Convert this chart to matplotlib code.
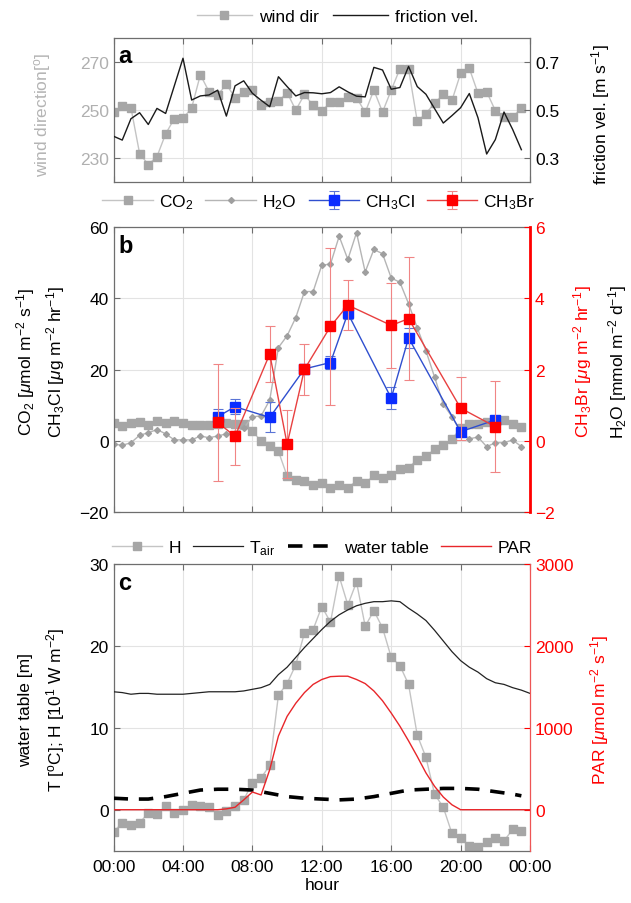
import matplotlib
matplotlib.use("Agg")
import matplotlib.pyplot as plt
import numpy as np

plt.rcParams['font.family'] = ['Liberation Sans', 'DejaVu Sans']
plt.rcParams['mathtext.fontset'] = 'custom'
plt.rcParams['mathtext.rm'] = 'Liberation Sans'
plt.rcParams['mathtext.it'] = 'Liberation Sans:italic'

# ---------------- data ----------------
hh = [i * 0.5 for i in range(48)]  # half-hourly time stamps (h)

wind_dir = [249.4, 251.7, 251.1, 232.0, 227.4, 230.7, 240.2, 246.5, 246.6, 251.0,
            264.8, 257.8, 256.4, 260.8, 255.3, 257.8, 258.4, 252.1, 253.5, 253.8,
            257.4, 250.1, 256.6, 252.1, 249.7, 253.4, 253.5, 255.7, 255.3, 249.2,
            258.4, 249.3, 258.4, 267.3, 267.1, 245.5, 248.6, 253.1, 256.6, 254.1,
            265.4, 267.5, 257.1, 257.7, 249.9, 247.3, 247.3, 250.8]
friction_vel = [0.392, 0.376, 0.465, 0.490, 0.441, 0.508, 0.487, 0.602, 0.717, 0.543,
                0.560, 0.564, 0.584, 0.476, 0.602, 0.623, 0.571, 0.542, 0.515, 0.640,
                0.599, 0.560, 0.574, 0.573, 0.569, 0.574, 0.598, 0.577, 0.559, 0.556,
                0.679, 0.668, 0.588, 0.595, 0.683, 0.599, 0.567, 0.507, 0.447, 0.478,
                0.511, 0.570, 0.469, 0.318, 0.378, 0.493, 0.420, 0.336]

co2 = [5.0, 4.2, 5.0, 5.3, 4.4, 5.6, 5.1, 5.6, 5.0, 4.6,
       4.6, 4.6, 4.8, 5.0, 4.8, 4.8, 2.7, 0.0, -1.3, -2.9,
       -9.8, -11.0, -11.2, -12.4, -11.9, -13.1, -12.4, -13.1, -11.2, -11.9,
       -9.6, -10.3, -9.6, -8.0, -7.5, -5.2, -4.3, -2.3, -1.2, 0.5,
       3.6, 4.8, 4.8, 5.2, 5.5, 5.9, 4.8, 4.0]
h2o = [-0.9, -1.2, -0.5, 1.6, 2.3, 3.2, 2.0, 0.3, 0.3, 0.3,
       1.4, 0.9, 1.4, 2.0, 2.3, 3.6, 6.8, 7.0, 11.5, 26.2,
       29.5, 34.6, 41.9, 41.9, 49.3, 49.6, 57.4, 50.9, 58.4, 47.4,
       53.7, 52.5, 45.7, 44.5, 38.5, 31.7, 25.3, 17.9, 10.3, 6.8,
       2.6, 0.6, 1.1, -1.6, -0.5, -0.5, 0.3, -1.6]

cl_hour = [6, 7, 9, 11, 12.5, 13.5, 16, 17, 20, 22]
ch3cl = [6.8, 9.6, 6.6, 20.2, 22.0, 35.8, 12.0, 28.9, 2.6, 5.9]
ch3cl_err = [2.3, 2.1, 4.2, 1.0, 1.9, 1.5, 3.1, 2.9, 0.8, 1.0]

br_hour = [6, 7, 9, 10, 11, 12.5, 13.5, 16, 17, 20, 22]
ch3br = [0.52, 0.13, 2.44, -0.09, 2.01, 3.21, 3.81, 3.24, 3.43, 0.92, 0.40]
ch3br_err = [1.65, 0.80, 0.79, 0.96, 0.71, 2.19, 0.69, 1.18, 1.73, 0.88, 1.28]

sens_heat = [-2.7, -1.6, -1.9, -1.6, -0.4, -0.5, 0.4, -0.4, 0.0, 0.6,
             0.4, 0.3, -0.6, -0.2, 0.4, 1.2, 3.3, 3.9, 5.4, 14.0,
             15.4, 17.7, 21.6, 22.0, 24.8, 22.9, 28.5, 25.0, 27.8, 22.4,
             24.3, 22.2, 18.6, 17.6, 15.3, 9.1, 6.4, 1.9, 0.3, -2.9,
             -3.5, -4.4, -4.6, -3.9, -3.5, -3.8, -2.4, -2.6]

hh49 = [i * 0.5 for i in range(49)]
t_air = [14.4, 14.3, 14.1, 14.2, 14.2, 14.1, 14.1, 14.1, 14.1, 14.2,
         14.3, 14.4, 14.4, 14.4, 14.4, 14.5, 14.7, 14.9, 15.3, 16.5,
         17.4, 18.6, 19.8, 20.9, 22.0, 23.0, 23.8, 24.4, 24.9, 25.2,
         25.4, 25.4, 25.5, 25.4, 24.6, 23.9, 23.1, 21.9, 20.6, 19.3,
         18.2, 17.4, 16.8, 16.0, 15.5, 15.3, 14.9, 14.6, 14.2]
par = [0, 0, 0, 0, 0, 0, 0, 0, 0, 0,
       0, 0, 0, 10, 30, 120, 216, 180, 490, 900,
       1140, 1300, 1430, 1530, 1590, 1625, 1630, 1630, 1590, 1540,
       1450, 1330, 1180, 1020, 840, 650, 450, 285, 155, 60,
       0, 0, 0, 0, 0, 0, 0, 0, 0]

wt_hour = list(range(24)) + [23.5]
water_table = [1.4, 1.3, 1.3, 1.6, 2.0, 2.4, 2.5, 2.5, 2.4, 2.0,
               1.6, 1.4, 1.3, 1.2, 1.3, 1.6, 2.0, 2.4, 2.5, 2.6,
               2.6, 2.5, 2.2, 1.9, 1.7]

xticks = [0, 4, 8, 12, 16, 20, 24]
xticklabels = ['00:00', '04:00', '08:00', '12:00', '16:00', '20:00', '00:00']

# ---------------- styling ----------------
FS = 12.5
GRAY_M = '#a6a6a6'
GRAY_L = '#c4c4c4'
SPINE = '#6e6e6e'
BLUE = '#0a2cff'
BLUE_L = '#2f4fcf'
RED = '#ff0000'
RED_L = '#e84040'

fig = plt.figure(figsize=(6.31, 9.04), dpi=100)

L, W = 0.180, 0.660
axa = fig.add_axes([L, 0.7972, W, 0.1593])
axb = fig.add_axes([L, 0.4322, W, 0.3156])
axc = fig.add_axes([L, 0.0579, W, 0.3171])


def base(ax):
    ax.set_xlim(0, 24)
    ax.set_xticks(xticks)
    ax.grid(True, color='#e3e3e3', lw=0.8)
    ax.set_axisbelow(True)
    for s in ax.spines.values():
        s.set_color(SPINE)
        s.set_linewidth(0.9)
    ax.tick_params(direction='in', length=4, labelsize=FS, color=SPINE,
                   top=True, width=0.8)


for ax in (axa, axb, axc):
    base(ax)

# ---------------- panel a ----------------
axa.plot(hh, wind_dir, '-s', color=GRAY_L, lw=1.0, ms=5.6, mfc=GRAY_M, mec=GRAY_M,
         label='wind dir', zorder=2)
axa.set_ylim(220, 280)
axa.set_yticks([230, 250, 270])
axa.tick_params(axis='y', labelcolor='#b0b0b0')
axa.set_xticklabels([])
axa2 = axa.twinx()
axa2.plot(hh, friction_vel, '-', color='#1a1a1a', lw=1.0, label='friction vel.')
axa2.set_ylim(0.2, 0.8)
axa2.set_yticks([0.3, 0.5, 0.7])
axa2.tick_params(direction='in', length=4, labelsize=FS, color=SPINE, width=0.8)
for s in axa2.spines.values():
    s.set_visible(False)
axa.text(0.012, 0.96, 'a', transform=axa.transAxes, fontsize=17, fontweight='bold',
         va='top', ha='left', zorder=10)

h1, l1 = axa.get_legend_handles_labels()
h2, l2 = axa2.get_legend_handles_labels()
fig.legend(h1 + h2, l1 + l2, loc='center', bbox_to_anchor=(0.535, 0.981), ncol=2,
           frameon=False, fontsize=FS, handlelength=3.2, columnspacing=0.8,
           handletextpad=0.4)

fig.text(0.068, 0.873, 'wind direction[$^{\\rm o}$]', rotation=90, ha='center', va='center',
         fontsize=FS, color='#b4b4b4')
fig.text(0.952, 0.873, 'friction vel. [m s$^{-1}$]', rotation=90, ha='center', va='center',
         fontsize=FS, color='black')

# ---------------- panel b ----------------
axb.plot(hh, co2, '-s', color=GRAY_L, lw=1.0, ms=5.8, mfc=GRAY_M, mec=GRAY_M,
         label='CO$_2$', zorder=2)
axb.plot(hh, h2o, '-D', color='#b5b5b5', lw=1.0, ms=3.0, mfc='#9f9f9f', mec='#9f9f9f',
         label='H$_2$O', zorder=2)
axb.errorbar(cl_hour, ch3cl, yerr=ch3cl_err, fmt='-s', color=BLUE_L, lw=1.0, ms=6.5,
             mfc=BLUE, mec=BLUE, ecolor='#5a74d6', elinewidth=0.8, capsize=3.5,
             capthick=0.8, label='CH$_3$Cl', zorder=3)
axb.set_ylim(-20, 60)
axb.set_yticks([-20, 0, 20, 40, 60])
axb.set_xticklabels([])
axb2 = axb.twinx()
axb2.errorbar(br_hour, ch3br, yerr=ch3br_err, fmt='-s', color=RED_L, lw=1.0, ms=6.5,
              mfc=RED, mec=RED, ecolor='#f08585', elinewidth=0.8, capsize=3.5,
              capthick=0.8, label='CH$_3$Br', zorder=3)
axb2.set_ylim(-2, 6)
axb2.set_yticks([-2, 0, 2, 4, 6])
axb2.tick_params(direction='in', length=4, labelsize=FS, color=RED, labelcolor=RED, width=0.8)
for k, s in axb2.spines.items():
    s.set_visible(k == 'right')
axb2.spines['right'].set_color(RED)
axb2.spines['right'].set_linewidth(2.0)
axb.spines['right'].set_visible(False)
axb.text(0.012, 0.975, 'b', transform=axb.transAxes, fontsize=17, fontweight='bold',
         va='top', ha='left', zorder=10)

h1, l1 = axb.get_legend_handles_labels()
h2, l2 = axb2.get_legend_handles_labels()
fig.legend(h1 + h2, l1 + l2, loc='center', bbox_to_anchor=(0.505, 0.776), ncol=4,
           frameon=False, fontsize=FS, handlelength=2.9, columnspacing=0.7,
           handletextpad=0.35)

fig.text(0.040, 0.60, 'CO$_2$ [$\\mu$mol m$^{-2}$ s$^{-1}$]', rotation=90, ha='center',
         va='center', fontsize=FS)
fig.text(0.088, 0.60, 'CH$_3$Cl [$\\mu$g m$^{-2}$ hr$^{-1}$]', rotation=90, ha='center',
         va='center', fontsize=FS)
fig.text(0.924, 0.60, 'CH$_3$Br [$\\mu$g m$^{-2}$ hr$^{-1}$]', rotation=90, ha='center',
         va='center', fontsize=FS, color=RED)
fig.text(0.978, 0.60, 'H$_2$O [mmol m$^{-2}$ d$^{-1}$]', rotation=90, ha='center',
         va='center', fontsize=FS)

# ---------------- panel c ----------------
axc.plot(hh, sens_heat, '-s', color=GRAY_L, lw=1.0, ms=5.8, mfc=GRAY_M, mec=GRAY_M,
         label='H', zorder=2)
axc.plot(hh49, t_air, '-', color='#222222', lw=0.9, label='T$_{\\rm air}$', zorder=3)
axc.plot(wt_hour, water_table, '--', color='black', lw=2.6, dashes=(4, 3),
         label='water table', zorder=3)
axc.set_ylim(-5, 30)
axc.set_yticks([0, 10, 20, 30])
axc.set_xticklabels(xticklabels)
axc.tick_params(axis='x', pad=6)
axc.set_xlabel('hour', fontsize=FS, labelpad=2)
axc2 = axc.twinx()
axc2.plot(hh49, par, '-', color='#e8262a', lw=1.0, label='PAR', zorder=3)
axc2.set_ylim(-500, 3000)
axc2.set_yticks([0, 1000, 2000, 3000])
axc2.tick_params(direction='in', length=4, labelsize=FS, color=RED, labelcolor=RED, width=0.8)
for k, s in axc2.spines.items():
    s.set_visible(k == 'right')
axc2.spines['right'].set_color('#ee5555')
axc2.spines['right'].set_linewidth(0.9)
axc.spines['right'].set_visible(False)
axc.text(0.012, 0.975, 'c', transform=axc.transAxes, fontsize=17, fontweight='bold',
         va='top', ha='left', zorder=10)

h1, l1 = axc.get_legend_handles_labels()
h2, l2 = axc2.get_legend_handles_labels()
fig.legend(h1 + h2, l1 + l2, loc='center', bbox_to_anchor=(0.51, 0.393), ncol=4,
           frameon=False, fontsize=FS, handlelength=2.9, columnspacing=0.7,
           handletextpad=0.35)

fig.text(0.040, 0.215, 'water table [m]', rotation=90, ha='center', va='center', fontsize=FS)
fig.text(0.088, 0.215, 'T [$^{\\rm o}$C]; H [10$^{1}$ W m$^{-2}$]', rotation=90, ha='center',
         va='center', fontsize=FS)
fig.text(0.950, 0.215, 'PAR [$\\mu$mol m$^{-2}$ s$^{-1}$]', rotation=90, ha='center',
         va='center', fontsize=FS, color=RED)

fig.savefig('out.png', dpi=100)
